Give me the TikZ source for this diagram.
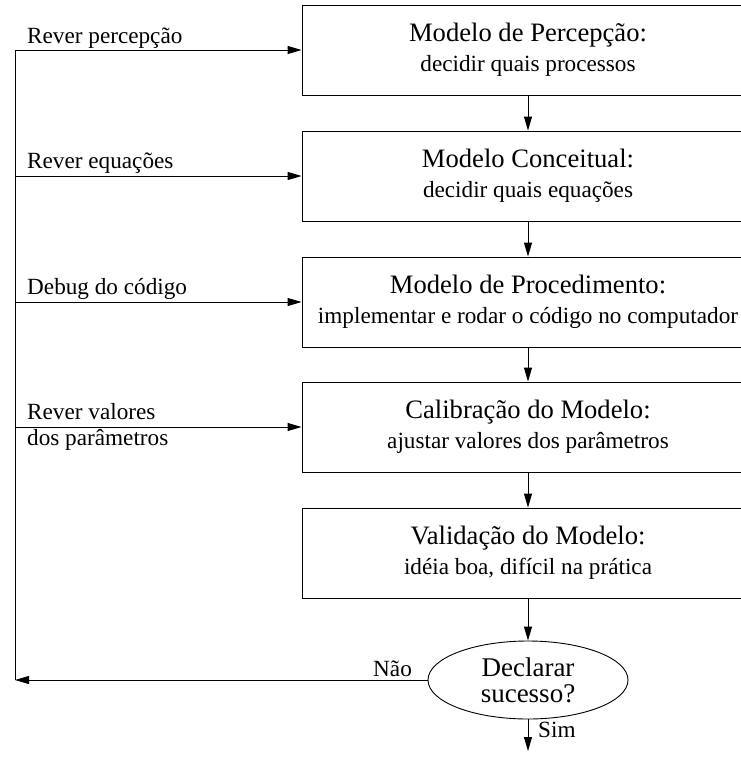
\documentclass[tikz,border=0pt]{standalone}
\usepackage{fontspec}
\setmainfont{Liberation Serif}
\usetikzlibrary{arrows.meta,shapes.geometric}

\tikzset{
  stagebox/.style={draw, rectangle, line width=0.9pt, minimum width=452pt,
    minimum height=90pt, inner sep=0pt, align=center,
    font=\fontsize{23.2}{30}\selectfont},
  decision/.style={draw, ellipse, line width=0.9pt, minimum width=200pt,
    minimum height=78pt, inner sep=0pt, align=center,
    font=\fontsize{27}{26}\selectfont},
  flow/.style={line width=0.9pt, -{Triangle[length=14pt,width=8pt]}},
  sidelabel/.style={anchor=base west, inner sep=0pt,
    font=\fontsize{23.2}{26}\selectfont},
  ttl/.style={}
}
\newcommand{\stagetitle}[1]{{\fontsize{26.6}{30}\selectfont #1}}

\begin{document}
\begin{tikzpicture}[x=1pt,y=-1pt]
  \useasboundingbox (0,0) rectangle (741,758);
  \clip (0,0) rectangle (741,758);

  % process stages
  \node[stagebox] (b1) at (528,50)  {\stagetitle{Modelo de Percepção:}\\decidir quais processos};
  \node[stagebox] (b2) at (528,176) {\stagetitle{Modelo Conceitual:}\\decidir quais equações};
  \node[stagebox] (b3) at (528,302) {\stagetitle{Modelo de Procedimento:}\\implementar e rodar o código no computador};
  \node[stagebox] (b4) at (528,427) {\stagetitle{Calibração do Modelo:}\\ajustar valores dos parâmetros};
  \node[stagebox] (b5) at (528,553) {\stagetitle{Validação do Modelo:}\\idéia boa, difícil na prática};

  % decision
  \node[decision] (dec) at (528,680) {Declarar\\sucesso?};
  \coordinate (out) at (528,751);

  % main flow
  \draw[flow] (b1) -- (b2);
  \draw[flow] (b2) -- (b3);
  \draw[flow] (b3) -- (b4);
  \draw[flow] (b4) -- (b5);
  \draw[flow] (b5) -- (dec);
  \draw[flow] (dec) -- (out);
  \node[sidelabel] (sim) at (538,737) {Sim};

  % feedback trunk
  \coordinate (t0) at (15,680);
  \coordinate (t1) at (15,50);
  \coordinate (t2) at (15,176);
  \coordinate (t3) at (15,302);
  \coordinate (t4) at (15,427);

  \draw[flow] (dec.west) -- (t0);
  \node[sidelabel] (nao) at (373,676) {Não};
  \draw[line width=0.9pt] (t0) -- (t1);

  \draw[flow] (t1) -- (b1.west);
  \draw[flow] (t2) -- (b2.west);
  \draw[flow] (t3) -- (b3.west);
  \draw[flow] (t4) -- (b4.west);

  \node[sidelabel] (l1) at (27,43)  {Rever percepção};
  \node[sidelabel] (l2) at (27,168) {Rever equações};
  \node[sidelabel] (l3) at (27,294) {Debug do código};
  \node[sidelabel] (l4a) at (27,419) {Rever valores};
  \node[sidelabel] (l4b) at (27,445) {dos parâmetros};
\end{tikzpicture}
\end{document}
